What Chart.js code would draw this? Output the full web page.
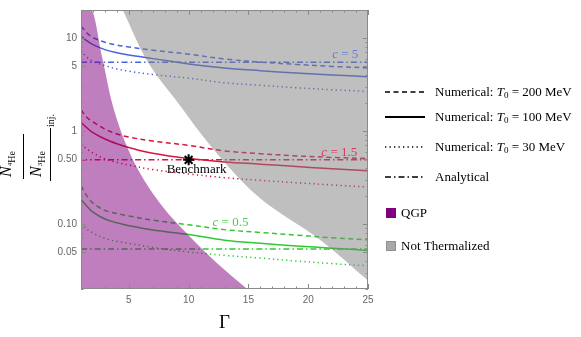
<!DOCTYPE html>
<html>
  <head>
    <script src="https://cdn.jsdelivr.net/npm/chart.js@4.4.0/dist/chart.umd.min.js"></script>
    <style>
      body { margin: 0; background: #fff; }
      #wrap { width: 581px; height: 337px; }
    </style>
  </head>
  <body>
    <div id="wrap"><canvas id="ratioChart"></canvas></div>
    <script>
      // Gamma grid for the numerical curves
      var gammas = [1, 1.5, 2, 3, 4, 5, 7, 10, 13, 16, 19, 22, 25];

      // c = 5
      var c5_T200 = [13.4, 11.3, 10.1, 9.0, 8.4, 8.0, 7.4, 6.7, 5.95, 5.5, 5.2, 4.95, 4.77];
      var c5_T100 = [10.5, 9.3, 8.5, 7.5, 6.95, 6.55, 6.0, 5.25, 4.75, 4.45, 4.2, 4.0, 3.84];
      var c5_T30  = [7.3, 6.2, 5.6, 5.05, 4.65, 4.4, 4.05, 3.7, 3.3, 3.1, 2.92, 2.78, 2.66];
      var c5_analytical = 5.47;

      // c = 1.5
      var c15_T200 = [1.68, 1.4, 1.25, 1.05, 0.93, 0.86, 0.78, 0.70, 0.61, 0.57, 0.54, 0.52, 0.505];
      var c15_T100 = [1.24, 1.08, 0.96, 0.82, 0.73, 0.665, 0.575, 0.505, 0.465, 0.44, 0.415, 0.393, 0.374];
      var c15_T30  = [0.72, 0.64, 0.58, 0.5, 0.46, 0.43, 0.385, 0.345, 0.315, 0.295, 0.278, 0.263, 0.25];
      var c15_analytical = 0.49;

      // c = 0.5
      var c05_T200 = [0.258, 0.2, 0.168, 0.14, 0.13, 0.122, 0.11, 0.098, 0.087, 0.081, 0.076, 0.071, 0.0676];
      var c05_T100 = [0.184, 0.155, 0.134, 0.113, 0.103, 0.096, 0.086, 0.077, 0.067, 0.062, 0.058, 0.055, 0.052];
      var c05_T30  = [0.102, 0.088, 0.08, 0.07, 0.065, 0.062, 0.056, 0.05, 0.046, 0.043, 0.04, 0.0375, 0.0355];
      var c05_analytical = 0.054;

      // region boundaries
      var qgpGamma = [1, 1.84, 2.76, 3.6, 4.93, 7.1, 10.5, 13.1, 14.9];
      var qgpRatio = [20, 20, 6.3, 2.0, 0.64, 0.205, 0.065, 0.0314, 0.02];
      var ntGamma = [4.5, 6.33, 8.95, 12.05, 15.64, 21.17, 25];
      var ntRatio = [20, 6.3, 2.14, 0.64, 0.206, 0.065, 0.0247];

      var benchmark = {x: 10, y: 0.49};

      var xMajor = [5, 10, 15, 20, 25];
      var yMajor = [0.05, 0.1, 0.5, 1, 5, 10];
      var yMajorLabels = ['0.05', '0.10', '0.50', '1', '5', '10'];

      var BLUE = 'rgb(70,100,220)';
      var RED = 'rgb(220,20,60)';
      var GREEN = 'rgb(50,200,50)';

      var DASH = [5, 3.5];
      var DOT = [1.3, 3.2];
      var DASHDOT = [6, 3, 1.5, 3];

      function pts(xs, ys) {
        return xs.map(function (x, i) { return {x: x, y: ys[i]}; });
      }
      function flat(v) {
        return [{x: 1, y: v}, {x: 25, y: v}];
      }
      function line(data, color, dash) {
        return {
          data: data, borderColor: color, borderWidth: 1.5, borderDash: dash,
          pointRadius: 0, fill: false, tension: 0.35, order: 2
        };
      }

      var datasets = [
        line(pts(gammas, c5_T200), BLUE, DASH),
        line(pts(gammas, c5_T100), BLUE, []),
        line(pts(gammas, c5_T30), BLUE, DOT),
        line(flat(c5_analytical), BLUE, DASHDOT),
        line(pts(gammas, c15_T200), RED, DASH),
        line(pts(gammas, c15_T100), RED, []),
        line(pts(gammas, c15_T30), RED, DOT),
        line(flat(c15_analytical), RED, DASHDOT),
        line(pts(gammas, c05_T200), GREEN, DASH),
        line(pts(gammas, c05_T100), GREEN, []),
        line(pts(gammas, c05_T30), GREEN, DOT),
        line(flat(c05_analytical), GREEN, DASHDOT),
        {
          data: [benchmark], showLine: false, pointStyle: 'star', pointRadius: 5.5,
          borderColor: '#000', borderWidth: 2, backgroundColor: '#000', order: 1
        },
        {
          data: pts(qgpGamma, qgpRatio), borderWidth: 0, pointRadius: 0,
          cubicInterpolationMode: 'monotone',
          backgroundColor: 'rgba(128,0,128,0.5)', fill: 'start', order: 0
        },
        {
          data: pts(ntGamma, ntRatio), borderWidth: 0, pointRadius: 0,
          cubicInterpolationMode: 'monotone',
          backgroundColor: 'rgba(128,128,128,0.5)', fill: 'end', order: 0
        }
      ];

      // draw a run of text pieces left to right, returns width
      function rich(ctx, parts, x, y, measureOnly) {
        var cx = x;
        parts.forEach(function (p) {
          ctx.font = p.font;
          if (!measureOnly) ctx.fillText(p.t, cx, y + (p.dy || 0));
          cx += ctx.measureText(p.t).width;
        });
        return cx - x;
      }

      var SERIF = '"Liberation Serif", "DejaVu Serif", serif';

      var decor = {
        id: 'decor',
        afterDraw: function (chart) {
          var ctx = chart.ctx;
          var xs = chart.scales.x, ys = chart.scales.y;
          var a = chart.chartArea;
          ctx.save();

          // frame
          ctx.strokeStyle = '#8a8a8a';
          ctx.lineWidth = 1;
          ctx.strokeRect(a.left + 0.5, a.top + 0.5, a.right - a.left - 1, a.bottom - a.top - 1);

          // inward ticks
          ctx.beginPath();
          for (var g = 1; g <= 25; g++) {
            var px = Math.round(xs.getPixelForValue(g)) + 0.5;
            var len = (g % 5 === 0) ? 5 : 2.5;
            ctx.moveTo(px, a.bottom); ctx.lineTo(px, a.bottom - len);
            ctx.moveTo(px, a.top); ctx.lineTo(px, a.top + len);
          }
          for (var e = -2; e <= 1; e++) {
            for (var k = 1; k <= 9; k++) {
              var v = k * Math.pow(10, e);
              if (v < 0.02 || v > 20) continue;
              var py = Math.round(ys.getPixelForValue(v)) + 0.5;
              var l2 = (k === 1 || k === 5) ? 5 : 2.5;
              ctx.moveTo(a.left, py); ctx.lineTo(a.left + l2, py);
              ctx.moveTo(a.right, py); ctx.lineTo(a.right - l2, py);
            }
          }
          ctx.stroke();

          // curve family labels
          ctx.textBaseline = 'alphabetic';
          function famLabel(txt, color, gx, gy) {
            var parts = [
              {t: 'c', font: 'italic 13px ' + SERIF},
              {t: ' = ' + txt, font: '13px ' + SERIF}
            ];
            var w = rich(ctx, parts, 0, 0, true);
            ctx.fillStyle = color;
            rich(ctx, parts, xs.getPixelForValue(gx) - w / 2, ys.getPixelForValue(gy) + 4);
          }
          famLabel('5', 'rgb(105,125,215)', 23.1, 6.8);
          famLabel('1.5', 'rgb(215,60,95)', 22.6, 0.6);
          famLabel('0.5', 'rgb(80,205,80)', 13.5, 0.105);

          // benchmark text
          ctx.fillStyle = '#000';
          ctx.font = '13px ' + SERIF;
          ctx.fillText('Benchmark', xs.getPixelForValue(benchmark.x) - 22, ys.getPixelForValue(benchmark.y) + 13);

          // x title
          ctx.font = '19px ' + SERIF;
          ctx.textAlign = 'center';
          ctx.fillText('\u0393', (a.left + a.right) / 2, 328);
          ctx.textAlign = 'left';

          // y title (rotated fraction)
          ctx.save();
          ctx.rotate(-Math.PI / 2);
          ctx.fillStyle = '#000';
          rich(ctx, [
            {t: 'N', font: 'italic 16px ' + SERIF},
            {t: '4', font: '7px ' + SERIF, dy: 1},
            {t: 'He', font: '10px ' + SERIF, dy: 4}
          ], -177, 11);
          rich(ctx, [
            {t: 'N', font: 'italic 16px ' + SERIF},
            {t: '3', font: '7px ' + SERIF, dy: 1},
            {t: 'He', font: '10px ' + SERIF, dy: 4}
          ], -177, 41);
          ctx.strokeStyle = '#000';
          ctx.lineWidth = 1;
          ctx.beginPath();
          ctx.moveTo(-179, 23.5); ctx.lineTo(-134, 23.5);
          ctx.moveTo(-181, 50.5); ctx.lineTo(-128, 50.5);
          ctx.stroke();
          ctx.font = '10px ' + SERIF;
          ctx.fillText('inj.', -127, 54);
          ctx.restore();

          // legend
          var lx0 = 385, lx1 = 425, tx = 435;
          var rows = [
            {y: 92, dash: DASH, t: '200'},
            {y: 117, dash: [], t: '100'},
            {y: 147, dash: DOT, t: '30'}
          ];
          ctx.strokeStyle = '#000';
          ctx.fillStyle = '#000';
          rows.forEach(function (r) {
            ctx.setLineDash(r.dash);
            ctx.lineWidth = r.dash.length ? 1.3 : 1.8;
            ctx.beginPath(); ctx.moveTo(lx0, r.y); ctx.lineTo(lx1, r.y); ctx.stroke();
            rich(ctx, [
              {t: 'Numerical: ', font: '13px ' + SERIF},
              {t: 'T', font: 'italic 13px ' + SERIF},
              {t: '0', font: '9px ' + SERIF, dy: 2},
              {t: ' = ' + r.t + ' MeV', font: '13px ' + SERIF}
            ], tx, r.y + 4);
          });
          ctx.setLineDash(DASHDOT);
          ctx.lineWidth = 1.3;
          ctx.beginPath(); ctx.moveTo(lx0, 177); ctx.lineTo(lx1, 177); ctx.stroke();
          ctx.setLineDash([]);
          ctx.font = '13px ' + SERIF;
          ctx.fillText('Analytical', tx, 181);

          ctx.fillStyle = '#800080';
          ctx.fillRect(386, 208, 10, 10);
          ctx.fillStyle = '#a8a8a8';
          ctx.fillRect(386, 241, 10, 10);
          ctx.strokeStyle = '#909090';
          ctx.lineWidth = 1;
          ctx.strokeRect(386.5, 241.5, 9, 9);
          ctx.fillStyle = '#000';
          ctx.fillText('QGP', 401, 217);
          ctx.fillText('Not Thermalized', 401, 250);

          ctx.restore();
        }
      };

      var ctx = document.getElementById('ratioChart').getContext('2d');
      var chart = new Chart(ctx, {
        type: 'line',
        data: { datasets: datasets },
        options: {
          responsive: true,
          maintainAspectRatio: false,
          animation: false,
          layout: { padding: { top: 3, right: 213, left: 0, bottom: 0 } },
          plugins: {
            legend: { display: false },
            tooltip: { enabled: false }
          },
          scales: {
            x: {
              type: 'linear', min: 1, max: 25,
              grid: { display: false, drawTicks: false },
              border: { display: false },
              afterBuildTicks: function (s) { s.ticks = xMajor.map(function (v) { return {value: v}; }); },
              afterFit: function (s) { s.height = 48; },
              ticks: { color: '#666', padding: 5, font: { family: '"Liberation Sans", sans-serif', size: 10 } }
            },
            y: {
              type: 'logarithmic', min: 0.02, max: 20,
              grid: { display: false, drawTicks: false },
              border: { display: false },
              afterBuildTicks: function (s) { s.ticks = yMajor.map(function (v) { return {value: v}; }); },
              afterFit: function (s) { s.width = 81; },
              ticks: {
                color: '#666', padding: 4, font: { family: '"Liberation Sans", sans-serif', size: 10 },
                callback: function (v, i) { return yMajorLabels[i]; }
              }
            }
          }
        },
        plugins: [decor]
      });
    </script>
  </body>
</html>
